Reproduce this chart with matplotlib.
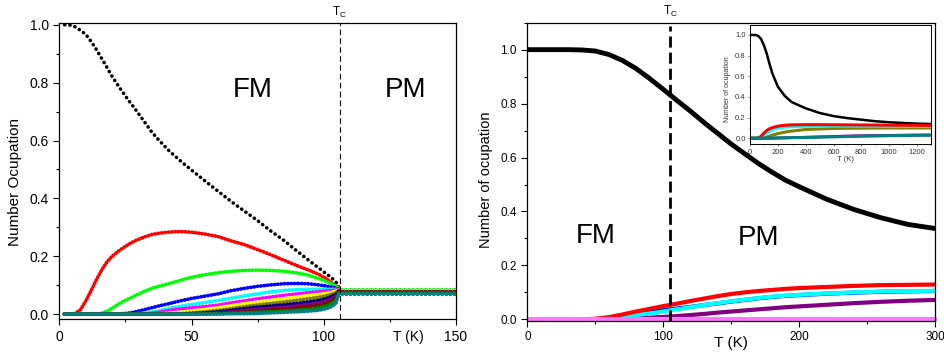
import matplotlib
matplotlib.use("Agg")
import matplotlib.pyplot as plt
from matplotlib.ticker import MultipleLocator

plt.rcParams['font.family'] = ['Liberation Sans', 'DejaVu Sans']
plt.rcParams['mathtext.fontset'] = 'custom'
plt.rcParams['mathtext.rm'] = 'Liberation Sans'

# ---------------- left panel: occupation of each level (dots) ----------------
T_c_left = 106
T_left = [2, 4, 6, 8, 10, 12, 14, 16, 18, 20, 23, 26, 29, 32, 35, 38, 41, 44, 47, 50,
          55, 60, 65, 70, 75, 80, 85, 90, 94, 98, 101, 103, 104.5, 106]
T_left_pm = [107, 150]

n_black = [1.0, 0.999, 0.993, 0.981, 0.967, 0.943, 0.915, 0.884, 0.853, 0.821, 0.780, 0.741, 0.705,
           0.667, 0.629, 0.598, 0.569, 0.544, 0.520, 0.498, 0.461, 0.425, 0.389, 0.356, 0.323, 0.287,
           0.254, 0.217, 0.188, 0.160, 0.139, 0.125, 0.112, 0.090]
n_red = [0.0, 0.0, 0.002, 0.015, 0.045, 0.080, 0.118, 0.152, 0.180, 0.200, 0.222, 0.240, 0.255,
         0.266, 0.275, 0.280, 0.283, 0.285, 0.285, 0.283, 0.277, 0.268, 0.253, 0.240, 0.223, 0.205,
         0.186, 0.167, 0.153, 0.138, 0.122, 0.108, 0.098, 0.090]
n_green = [0.0, 0.0, 0.0, 0.0, 0.0, 0.0, 0.0, 0.003, 0.010, 0.020, 0.038, 0.052, 0.065, 0.078,
           0.089, 0.097, 0.104, 0.112, 0.120, 0.127, 0.136, 0.143, 0.148, 0.151, 0.152, 0.151,
           0.148, 0.142, 0.135, 0.123, 0.113, 0.104, 0.097, 0.088]
n_blue = [0.0, 0.0, 0.0, 0.0, 0.0, 0.0, 0.0, 0.0, 0.0, 0.0, 0.001, 0.003, 0.008, 0.015, 0.022,
          0.029, 0.035, 0.042, 0.048, 0.054, 0.062, 0.070, 0.081, 0.089, 0.096, 0.101, 0.105,
          0.106, 0.105, 0.101, 0.097, 0.093, 0.090, 0.086]
n_cyan = [0.0, 0.0, 0.0, 0.0, 0.0, 0.0, 0.0, 0.0, 0.0, 0.0, 0.0, 0.0, 0.001, 0.003, 0.007, 0.012,
          0.019, 0.024, 0.029, 0.033, 0.040, 0.047, 0.055, 0.063, 0.070, 0.077, 0.082, 0.085,
          0.086, 0.086, 0.086, 0.086, 0.086, 0.085]
n_magenta = [0.0, 0.0, 0.0, 0.0, 0.0, 0.0, 0.0, 0.0, 0.0, 0.0, 0.0, 0.0, 0.0, 0.001, 0.003, 0.007,
             0.012, 0.016, 0.019, 0.022, 0.026, 0.031, 0.039, 0.046, 0.053, 0.059, 0.065, 0.070,
             0.074, 0.077, 0.080, 0.082, 0.083, 0.085]
n_yellow = [0.0, 0.0, 0.0, 0.0, 0.0, 0.0, 0.0, 0.0, 0.0, 0.0, 0.0, 0.0, 0.0, 0.0, 0.0, 0.001,
            0.003, 0.005, 0.008, 0.011, 0.016, 0.022, 0.029, 0.036, 0.041, 0.047, 0.053, 0.059,
            0.064, 0.068, 0.072, 0.076, 0.079, 0.084]
n_dkyellow = [0.0, 0.0, 0.0, 0.0, 0.0, 0.0, 0.0, 0.0, 0.0, 0.0, 0.0, 0.0, 0.0, 0.0, 0.0, 0.0,
              0.0, 0.001, 0.002, 0.004, 0.008, 0.013, 0.019, 0.026, 0.032, 0.037, 0.042, 0.048,
              0.053, 0.058, 0.064, 0.069, 0.074, 0.084]
n_navy = [0.0, 0.0, 0.0, 0.0, 0.0, 0.0, 0.0, 0.0, 0.0, 0.0, 0.0, 0.0, 0.0, 0.0, 0.0, 0.0,
          0.0, 0.0, 0.001, 0.002, 0.004, 0.008, 0.013, 0.019, 0.024, 0.028, 0.032, 0.037,
          0.042, 0.047, 0.054, 0.061, 0.068, 0.083]
n_purple = [0.0, 0.0, 0.0, 0.0, 0.0, 0.0, 0.0, 0.0, 0.0, 0.0, 0.0, 0.0, 0.0, 0.0, 0.0, 0.0,
            0.0, 0.0, 0.0, 0.001, 0.002, 0.004, 0.008, 0.013, 0.017, 0.020, 0.024, 0.029,
            0.033, 0.038, 0.045, 0.053, 0.062, 0.082]
n_wine = [0.0, 0.0, 0.0, 0.0, 0.0, 0.0, 0.0, 0.0, 0.0, 0.0, 0.0, 0.0, 0.0, 0.0, 0.0, 0.0,
          0.0, 0.0, 0.0, 0.0, 0.001, 0.002, 0.005, 0.008, 0.011, 0.014, 0.017, 0.021,
          0.025, 0.030, 0.037, 0.045, 0.055, 0.081]
n_olive = [0.0, 0.0, 0.0, 0.0, 0.0, 0.0, 0.0, 0.0, 0.0, 0.0, 0.0, 0.0, 0.0, 0.0, 0.0, 0.0,
           0.0, 0.0, 0.0, 0.0, 0.0, 0.001, 0.003, 0.005, 0.007, 0.009, 0.011, 0.014,
           0.017, 0.022, 0.029, 0.037, 0.047, 0.080]
n_dkcyan = [0.0, 0.0, 0.0, 0.0, 0.0, 0.0, 0.0, 0.0, 0.0, 0.0, 0.0, 0.0, 0.0, 0.0, 0.0, 0.0,
            0.0, 0.0, 0.0, 0.0, 0.0, 0.0, 0.001, 0.001, 0.002, 0.004, 0.006, 0.008,
            0.010, 0.013, 0.019, 0.026, 0.036, 0.078]

left_series = [n_black, n_red, n_green, n_blue, n_cyan, n_magenta, n_yellow,
               n_dkyellow, n_navy, n_purple, n_wine, n_olive, n_dkcyan]
# flat paramagnetic values above T_c
left_pm = [0.078, 0.079, 0.084, 0.079, 0.081, 0.080, 0.081, 0.078, 0.077, 0.076, 0.076, 0.074, 0.071]
left_colors = ['#000000', '#FF0000', '#00FF00', '#0000FF', '#00FFFF', '#FF00FF', '#FFFF00',
               '#808000', '#000080', '#800080', '#800000', '#008000', '#008080']

# ---------------- right panel ----------------
T_c_right = 105
T_right = [2, 10, 20, 30, 40, 50, 60, 70, 80, 90, 100, 110, 120, 130, 140, 150, 160, 170, 180,
           190, 200, 220, 240, 260, 280, 300]
r_black = [1.0, 1.0, 1.0, 1.0, 0.999, 0.995, 0.982, 0.960, 0.930, 0.893, 0.853, 0.812, 0.772,
           0.730, 0.690, 0.650, 0.614, 0.578, 0.546, 0.516, 0.492, 0.446, 0.408, 0.377, 0.352, 0.337]
r_red = [0.0, 0.0, 0.0, 0.0, 0.0, 0.002, 0.008, 0.018, 0.029, 0.039, 0.049, 0.058, 0.068, 0.077,
         0.086, 0.094, 0.100, 0.105, 0.109, 0.113, 0.116, 0.120, 0.124, 0.127, 0.128, 0.129]
r_blue = [0.0, 0.0, 0.0, 0.0, 0.0, 0.001, 0.005, 0.013, 0.021, 0.028, 0.034, 0.040, 0.046, 0.053,
          0.059, 0.066, 0.072, 0.078, 0.083, 0.087, 0.090, 0.095, 0.099, 0.102, 0.104, 0.105]
r_cyan = [0.0, 0.0, 0.0, 0.0, 0.0, 0.001, 0.003, 0.009, 0.016, 0.022, 0.029, 0.037, 0.045, 0.053,
          0.060, 0.067, 0.073, 0.079, 0.084, 0.088, 0.091, 0.096, 0.100, 0.103, 0.105, 0.106]
r_purple = [0.0, 0.0, 0.0, 0.0, 0.0, 0.0, 0.0, 0.001, 0.003, 0.006, 0.009, 0.012, 0.016, 0.020,
            0.025, 0.029, 0.033, 0.037, 0.041, 0.045, 0.048, 0.054, 0.060, 0.065, 0.069, 0.072]
T_pink = [2, 300]
r_pink = [0.0, 0.0]

# ---------------- inset (wide temperature range) ----------------
T_in = [0, 40, 60, 80, 100, 120, 140, 160, 200, 250, 300, 400, 500, 600, 700, 800, 900, 1000,
        1100, 1200, 1300]
in_black = [1.0, 1.0, 0.99, 0.96, 0.90, 0.82, 0.72, 0.63, 0.50, 0.41, 0.35, 0.29, 0.245, 0.215,
            0.195, 0.18, 0.165, 0.155, 0.148, 0.142, 0.138]
in_red = [0.0, 0.0, 0.002, 0.02, 0.05, 0.075, 0.092, 0.103, 0.117, 0.126, 0.130, 0.132, 0.132,
          0.131, 0.130, 0.129, 0.128, 0.127, 0.126, 0.125, 0.125]
in_cyan = [0.0, 0.0, 0.001, 0.012, 0.03, 0.05, 0.068, 0.082, 0.100, 0.108, 0.112, 0.116, 0.118,
           0.118, 0.118, 0.117, 0.117, 0.116, 0.116, 0.115, 0.115]
in_olive = [0.0, 0.0, 0.0, 0.001, 0.005, 0.012, 0.02, 0.03, 0.045, 0.06, 0.07, 0.085, 0.09, 0.095,
            0.097, 0.098, 0.099, 0.1, 0.1, 0.1, 0.1]
in_purple = [0.0, 0.0, 0.0, 0.0, 0.0, 0.0, 0.0, 0.001, 0.002, 0.004, 0.006, 0.01, 0.014, 0.018,
             0.022, 0.025, 0.027, 0.028, 0.03, 0.031, 0.032]
in_teal = [0.002, 0.002, 0.002, 0.002, 0.002, 0.002, 0.003, 0.003, 0.004, 0.005, 0.006, 0.008,
           0.011, 0.014, 0.017, 0.02, 0.022, 0.025, 0.027, 0.029, 0.03]


def style_axes(ax, labelsize, major_len=4, minor_len=2.5):
    for s in ax.spines.values():
        s.set_linewidth(0.9)
    ax.tick_params(which='both', direction='out', top=False, right=False,
                   width=0.8, labelsize=labelsize)
    ax.tick_params(which='major', length=major_len)
    ax.tick_params(which='minor', length=minor_len)


fig = plt.figure(figsize=(9.44, 3.58), dpi=100)

# ----- left -----
ax1 = fig.add_axes([0.0628, 0.1081, 0.4203, 0.8274])
for vals, pm, c in zip(left_series, left_pm, left_colors):
    if c == '#000000':
        lw, dash = 2.5, (0.1, 1.4)
    else:
        lw, dash = 2.7, (0.1, 0.8)
    ax1.plot(T_left, vals, color=c, lw=lw, dashes=dash, dash_capstyle='round')
    ax1.plot(T_left_pm, [pm, pm], color=c, lw=3.0, dashes=(0.1, 0.9), dash_capstyle='round')
ax1.axvline(T_c_left, color='black', lw=0.8, dashes=(5, 3))
ax1.set_xlim(0, 150)
ax1.set_ylim(-0.018, 1.006)
ax1.xaxis.set_minor_locator(MultipleLocator(25))
ax1.yaxis.set_major_locator(MultipleLocator(0.2))
ax1.yaxis.set_minor_locator(MultipleLocator(0.1))
ax1.yaxis.set_major_formatter(lambda v, p: '%.1f' % v)
ax1.set_xticks([0, 50, 100, 150])
style_axes(ax1, 10)
ax1.set_ylabel('Number Ocupation', fontsize=11)
ax1.yaxis.set_label_coords(-0.094, 0.464)
ax1.text(132, -0.036, 'T (K)', transform=ax1.get_xaxis_transform(), ha='center', va='top', fontsize=10)
ax1.text(73, 0.775, 'FM', fontsize=20, ha='center', va='center')
ax1.text(131, 0.775, 'PM', fontsize=20, ha='center', va='center')
ax1.text(T_c_left, 1.012, r'T$_\mathrm{C}$', transform=ax1.get_xaxis_transform(),
         ha='center', va='bottom', fontsize=8.5)

# ----- right -----
ax2 = fig.add_axes([0.5586, 0.1042, 0.4319, 0.8324])
ax2.plot(T_right, r_black, color='black', lw=3.5)
ax2.plot(T_right, r_purple, color='#800080', lw=3.0)
ax2.plot(T_right, r_blue, color='#0000FF', lw=3.0)
ax2.plot(T_right, r_cyan, color='#00FFFF', lw=3.0)
ax2.plot(T_right, r_red, color='#FF0000', lw=3.0)
ax2.plot(T_pink, r_pink, color='#FF77FF', lw=3.0, clip_on=False)
ax2.axvline(T_c_right, ymax=0.99, color='black', lw=2.0, dashes=(4, 1.8))
ax2.set_xlim(0, 300)
ax2.set_ylim(-0.005, 1.1)
ax2.xaxis.set_major_locator(MultipleLocator(100))
ax2.xaxis.set_minor_locator(MultipleLocator(50))
ax2.yaxis.set_minor_locator(MultipleLocator(0.1))
ax2.yaxis.set_major_formatter(lambda v, p: '%.1f' % v)
ax2.set_yticks([0, 0.2, 0.4, 0.6, 0.8, 1.0])
style_axes(ax2, 8.5)
ax2.set_ylabel('Number of ocupation', fontsize=10.5)
ax2.yaxis.set_label_coords(-0.085, 0.472)
ax2.set_xlabel('T (K)', fontsize=11)
ax2.xaxis.set_label_coords(0.5, -0.05)
ax2.text(50, 0.31, 'FM', fontsize=20, ha='center', va='center')
ax2.text(170, 0.30, 'PM', fontsize=20, ha='center', va='center')
ax2.text(T_c_right, 1.012, r'T$_\mathrm{C}$', transform=ax2.get_xaxis_transform(),
         ha='center', va='bottom', fontsize=8.5)

# ----- inset -----
ax3 = fig.add_axes([0.7945, 0.597, 0.1917, 0.3324])
ax3.plot(T_in, in_black, color='black', lw=1.8)
ax3.plot(T_in, in_olive, color='#808000', lw=2.2)
ax3.plot(T_in, in_cyan, color='#00FFFF', lw=2.2)
ax3.plot(T_in, in_red, color='#FF0000', lw=2.2)
ax3.plot(T_in, in_purple, color='#800080', lw=2.0)
ax3.plot(T_in, in_teal, color='#008080', lw=2.2)
ax3.set_xlim(0, 1300)
ax3.set_ylim(-0.058, 1.094)
ax3.xaxis.set_major_locator(MultipleLocator(200))
ax3.xaxis.set_minor_locator(MultipleLocator(100))
ax3.yaxis.set_minor_locator(MultipleLocator(0.1))
ax3.yaxis.set_major_formatter(lambda v, p: '%.1f' % v)
ax3.set_yticks([0, 0.2, 0.4, 0.6, 0.8, 1.0])
style_axes(ax3, 5.5, major_len=1.6, minor_len=1.0)
ax3.tick_params(which='both', pad=1.5, colors='#333333', width=0.5)
for s in ax3.spines.values():
    s.set_linewidth(0.7)
ax3.set_ylabel('Number of ocupation', fontsize=5, color='#333333')
ax3.yaxis.set_label_coords(-0.105, 0.465)
ax3.set_xlabel('T (K)', fontsize=5.5, color='#333333')
ax3.xaxis.set_label_coords(0.525, -0.1)

fig.savefig('out.png', dpi=100)
